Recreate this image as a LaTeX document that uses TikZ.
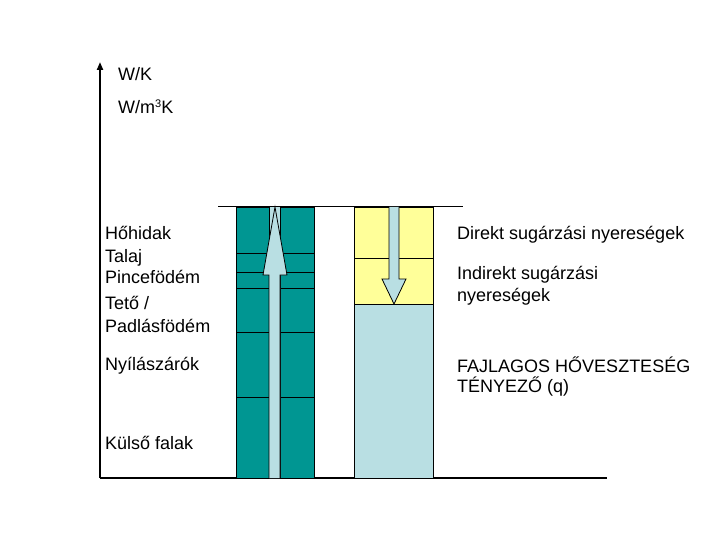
\documentclass[tikz,border=0pt]{standalone}
\usepackage{fontspec}
\setmainfont{Liberation Sans}
\usetikzlibrary{arrows.meta}
\definecolor{tealc}{RGB}{0,150,146}
\definecolor{yel}{RGB}{255,255,153}
\definecolor{lblue}{RGB}{185,223,227}
\begin{document}
\begin{tikzpicture}[x=1pt,y=-1pt,
  lab/.style={anchor=base west,inner sep=0pt,font=\fontsize{18}{21}\selectfont},
  cell/.style={draw=black,line width=0.8pt},
  arr/.style={draw=black,fill=lblue,line width=0.8pt,line join=miter}]
\useasboundingbox (0,0) rectangle (720,540);
% axes
\coordinate (o) at (100,478);
\coordinate (top) at (100,62);
\coordinate (xe) at (607,478);
\draw[line width=2pt,-{Triangle[length=8pt,width=6pt]}] (o) -- (top);
\draw[line width=1.5pt] (o) -- (xe);
% top reference line
\coordinate (t1) at (218,207);
\coordinate (t2) at (463,207);
\draw[line width=1pt] (t1) -- (t2);
% left teal column
\fill[lblue] (269,207) rectangle (280,478);
\foreach \ya/\yb in {207/253,253/272,272/288,288/332,332/397,397/478}{
  \draw[cell,fill=tealc] (236,\ya) rectangle (269,\yb);
  \draw[cell,fill=tealc] (280,\ya) rectangle (314,\yb);
}
% up arrow
\draw[arr] (269,478) -- (269,275) -- (263,275) -- (275,207) -- (287,275) -- (280,275) -- (280,478);
% right column
\draw[cell,fill=yel] (354,207) rectangle (433,258);
\draw[cell,fill=yel] (354,258) rectangle (433,304);
\draw[cell,fill=lblue] (354,304) rectangle (433,478);
% down arrow
\draw[arr] (389,207) -- (389,279) -- (382,279) -- (394,304) -- (406,279) -- (399,279) -- (399,207);
% labels
\node[lab] (wk) at (118,81) {W/K};
\node[lab] (wm) at (118,114) {W/m\raisebox{0.35em}{\fontsize{11}{13}\selectfont 3}K};
\node[lab] (l1) at (105,240) {Hőhidak};
\node[lab] (l2) at (105,262) {Talaj};
\node[lab] (l3) at (105,283) {Pincefödém};
\node[lab] (l4) at (105,309) {Tető /};
\node[lab] (l5) at (105,332) {Padlásfödém};
\node[lab] (l6) at (105,370) {Nyílászárók};
\node[lab] (l7) at (105,449) {Külső falak};
\node[lab] (r1) at (457,240) {Direkt sugárzási nyereségek};
\node[lab] (r2) at (457,279) {Indirekt sugárzási};
\node[lab] (r3) at (457,301) {nyereségek};
\node[lab] (r4) at (457,372) {FAJLAGOS HŐVESZTESÉG};
\node[lab] (r5) at (457,392) {TÉNYEZŐ (q)};
\end{tikzpicture}
\end{document}
